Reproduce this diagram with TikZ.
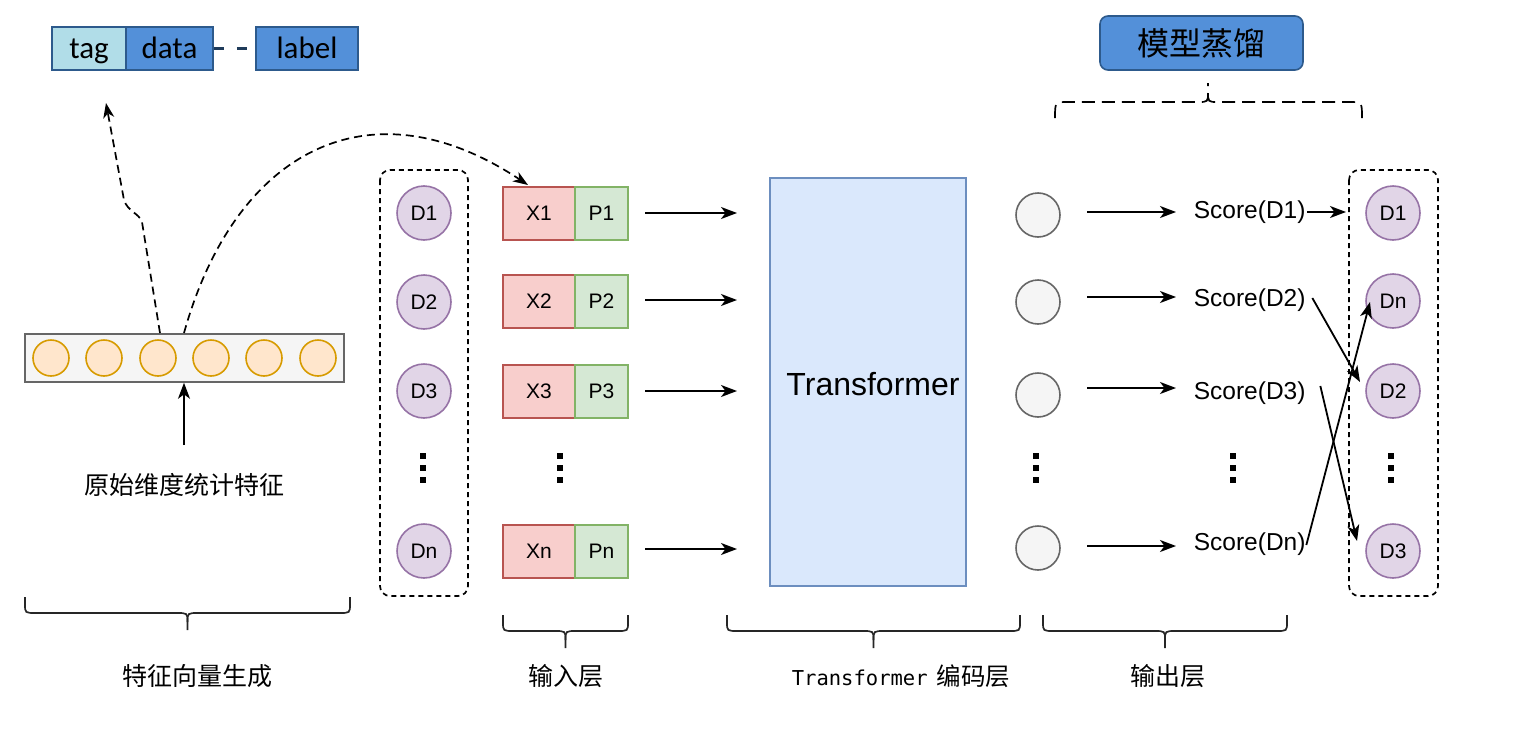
\documentclass[tikz,border=0pt]{standalone}
\usepackage{fontspec}
\setmainfont{Liberation Sans}
\newfontfamily\cjk{Noto Sans CJK SC}
\newfontfamily\calib{Carlito}
\newfontfamily\monof{DejaVu Sans Mono}
\usetikzlibrary{arrows.meta}
\definecolor{orF}{HTML}{FFE6CC}\definecolor{orD}{HTML}{D79B00}
\definecolor{puF}{HTML}{E1D5E7}\definecolor{puD}{HTML}{9673A6}
\definecolor{reF}{HTML}{F8CECC}\definecolor{reD}{HTML}{B85450}
\definecolor{grF}{HTML}{D5E8D4}\definecolor{grD}{HTML}{82B366}
\definecolor{blF}{HTML}{DAE8FC}\definecolor{blD}{HTML}{6C8EBF}
\definecolor{gyF}{HTML}{F5F5F5}\definecolor{gyD}{HTML}{666666}
\definecolor{tagF}{HTML}{B1DDE8}\definecolor{datF}{HTML}{5390D9}\definecolor{datD}{HTML}{2D5A8C}
\definecolor{navy}{HTML}{1F3B5A}
\newcommand\mybrace[3]{%
  \pgfmathsetmacro\bxc{(#1+#2)/2}%
  \draw[line width=1.7pt,black!85] (#1,#3) -- (#1,#3+7) .. controls (#1,#3+16) .. (#1+11,#3+16) -- (\bxc-11,#3+16) .. controls (\bxc,#3+16) .. (\bxc,#3+25) -- (\bxc,#3+33);
  \draw[line width=1.7pt,black!85] (#2,#3) -- (#2,#3+7) .. controls (#2,#3+16) .. (#2-11,#3+16) -- (\bxc+11,#3+16) .. controls (\bxc,#3+16) .. (\bxc,#3+25);
}
\newcommand\vdts[2]{%
  \fill (#1-2.8,#2-14.8) rectangle (#1+2.8,#2-9.2);
  \fill (#1-2.8,#2-2.8) rectangle (#1+2.8,#2+2.8);
  \fill (#1-2.8,#2+9.2) rectangle (#1+2.8,#2+14.8);
}
\begin{document}
\begin{tikzpicture}[x=1pt,y=-1pt,line width=1.7pt,
  arr/.style={-{Stealth[length=16pt,width=12pt,inset=4.5pt]},line width=1.8pt},
  dsh/.style={dash pattern=on 5pt off 4pt,line width=1.7pt},
  dar/.style={dash pattern=on 8pt off 5pt,line width=1.7pt,-{Stealth[length=15pt,width=11pt,inset=4.5pt]}},
  tbox/.style={draw=datD,line width=1.8pt,minimum height=43pt,inner sep=0pt,text height=23pt,text depth=4pt,font=\calib\fontsize{31}{34}\selectfont},
  orc/.style={circle,draw=orD,fill=orF,minimum size=36pt,inner sep=0pt,line width=1.6pt},
  puc/.style={circle,draw=puD,fill=puF,minimum size=54pt,inner sep=0pt,line width=1.6pt,font=\fontsize{21}{24}\selectfont},
  gyc/.style={circle,draw=gyD,fill=gyF,minimum size=44pt,inner sep=0pt,line width=1.6pt},
  xb/.style={draw=reD,fill=reF,minimum width=72pt,minimum height=53pt,inner sep=0pt,line width=1.6pt,font=\fontsize{21}{24}\selectfont},
  pb/.style={draw=grD,fill=grF,minimum width=53pt,minimum height=53pt,inner sep=0pt,line width=1.6pt,font=\fontsize{21}{24}\selectfont},
  sc/.style={anchor=west,inner sep=0pt,font=\fontsize{24.5}{27}\selectfont},
  lab/.style={font=\cjk\fontsize{25}{29}\selectfont,inner sep=0pt}]
\useasboundingbox (0,0) rectangle (1520,728);

% top-left legend
\node[tbox,fill=tagF,minimum width=74pt] (tag) at (89,48.5) {tag};
\node[tbox,fill=datF,minimum width=87pt] (data) at (169.5,48.5) {data};
\node[tbox,fill=datF,minimum width=102pt] (label) at (307,48.5) {label};
\draw[navy,line width=2.4pt,dash pattern=on 10pt off 13pt] (data.east) -- (label.west);

% feature vector
\node[draw=gyD,fill=gyF,minimum width=319pt,minimum height=48pt,inner sep=0pt,line width=1.6pt] (fv) at (184.5,358) {};
\foreach \i/\x in {1/51,2/104,3/158,4/211,5/264,6/318}
  \node[orc] (c\i) at (\x,358) {};
\node[lab] (orig) at (184,485) {原始维度统计特征};
\coordinate (a0) at (184,445);
\draw[arr] (a0) -- (a0 |- fv.south);

% dashed arrow up to the legend
\coordinate (v1) at (160,333);
\coordinate (up) at (106,103);
\draw[dar] (v1) -- (142,222) .. controls (139,213) and (128,212) .. (124,200) -- (up);

% left container
\draw[dsh,rounded corners=10pt] (380,170) rectangle (468,596);
\node[puc] (ld1) at (424,213) {D1};
\node[puc] (ld2) at (424,302) {D2};
\node[puc] (ld3) at (424,391) {D3};
\node[puc] (ldn) at (424,551) {Dn};
\vdts{423}{468}

% input layer
\foreach \n/\y in {1/213.5,2/301.5,3/391.5,n/551.5}{
  \node[xb] (x\n) at (539,\y) {X\n};
  \node[pb] (p\n) at (601.5,\y) {P\n};
}
\vdts{560}{468}
\coordinate (v2) at (184,333);
\coordinate (xt) at (528,185);
\draw[dar] (v2) .. controls (235,150) and (370,80) .. (xt);

% transformer
\node[draw=blD,fill=blF,minimum width=196pt,minimum height=408pt,inner sep=0pt,line width=1.6pt] (tf) at (868,382) {};
\node[font=\fontsize{32}{36}\selectfont,inner sep=0pt] (tft) at (873,384) {Transformer};
\foreach \n/\y in {1/213,2/300,3/391,n/549}{
  \coordinate (ia\n) at (645,\y);
  \draw[arr] (ia\n) -- (737,\y);
}

% output layer
\node[gyc] (o1) at (1038,215) {};
\node[gyc] (o2) at (1038,302) {};
\node[gyc] (o3) at (1038,395) {};
\node[gyc] (on) at (1038,548) {};
\vdts{1036}{468}
\node[sc] (s1) at (1193,212) {Score(D1)};
\node[sc] (s2) at (1193,300) {Score(D2)};
\node[sc] (s3) at (1193,393) {Score(D3)};
\node[sc] (sn) at (1193,544) {Score(Dn)};
\vdts{1233}{468}
\foreach \n/\y in {1/212,2/297,3/388,n/546}{
  \coordinate (oa\n) at (1087,\y);
  \draw[arr] (oa\n) -- (1176,\y);
}

% right container
\draw[dsh,rounded corners=10pt] (1349,170) rectangle (1438,596);
\node[puc] (rd1) at (1393,213) {D1};
\node[puc] (rdn) at (1393,301) {Dn};
\node[puc] (rd2) at (1393,391) {D2};
\node[puc] (rd3) at (1393,551) {D3};
\vdts{1391}{468}
\coordinate (t1) at (1346,212);
\coordinate (t2) at (1360,382);
\coordinate (t3) at (1357,541);
\coordinate (tn) at (1370,302);
\draw[arr] ([xshift=1pt]s1.east) -- (t1);
\draw[arr] ([xshift=6pt,yshift=2pt]s2.east) -- (t2);
\draw[arr] ([xshift=14pt,yshift=7pt]s3.east) -- (t3);
\draw[arr] ([xshift=0pt,yshift=-1pt]sn.east) -- (tn);

% model distillation
\node[draw=datD,fill=datF,rounded corners=8pt,minimum width=203pt,minimum height=54pt,inner sep=0pt,line width=1.6pt,font=\cjk\fontsize{32}{36}\selectfont] (md) at (1201.5,43) {模型蒸馏};
\coordinate (mb) at (1208,83);
\draw[line width=1.7pt,dash pattern=on 13pt off 7pt] (1055,118) .. controls (1055,102) .. (1068,102) -- (1198,102) .. controls (1208,102) .. (1208,92) -- (mb);
\draw[line width=1.7pt,dash pattern=on 13pt off 7pt] (1362,118) .. controls (1362,102) .. (1349,102) -- (1218,102) .. controls (1208,102) .. (1208,92);

% braces and labels
\mybrace{25}{350}{597}
\mybrace{503}{628}{615}
\mybrace{727}{1020}{615}
\mybrace{1043}{1287}{615}
\node[lab] (l1) at (197,676) {特征向量生成};
\node[lab] (l2) at (566,676) {输入层};
\node[inner sep=0pt] (l3) at (901,676) {{\monof\fontsize{20.5}{24}\selectfont Transformer}\hspace{9pt}{\cjk\fontsize{24.5}{28}\selectfont 编码层}};
\node[lab] (l4) at (1168,676) {输出层};
\end{tikzpicture}
\end{document}
